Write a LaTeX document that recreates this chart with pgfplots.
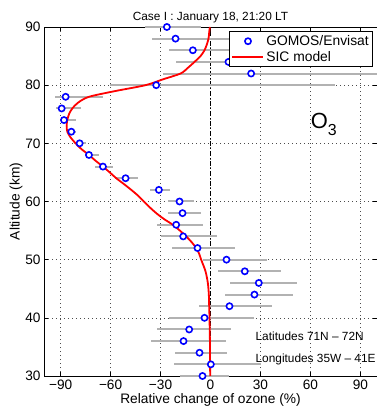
\documentclass[border=0pt]{standalone}
\usepackage{pgfplots}
\pgfplotsset{compat=1.18}
\usepackage{pgfplotstable}
\usepackage{fontspec}
\setmainfont{Liberation Sans}
\usetikzlibrary{calc}

% GOMOS/Envisat ozone change: altitude, value, error-bar ends
\pgfplotstableread{
y   x      lo     hi
90  -26.2  -39.6  -5.6
88  -21.0  -35.0  15.0
86  -10.6  -25.0  20.0
84   10.8  -20.6  40.0
82   24.4  -28.6  110.0
80  -32.6  -60.6  75.0
78  -87.0  -93.6  -64.6
76  -89.4  -93.0  -78.0
74  -88.0  -90.6  -81.0
72  -83.6  -86.0  -81.0
70  -78.6  -82.2  -75.0
68  -73.0  -75.6  -67.2
66  -64.6  -69.6  -58.6
64  -51.0  -57.6  -43.6
62  -31.0  -36.6  -24.6
60  -18.6  -25.6  -10.2
58  -16.8  -25.6  -5.6
56  -20.6  -32.2  -4.6
54  -16.4  -30.0   3.8
52  -7.8   -23.2  15.0
50   9.6   -4.6   34.0
48   20.6   4.4   42.4
46   29.0  11.8   51.8
44   26.4   9.0   49.4
42   11.4  -7.2   36.8
40  -3.6   -25.0  26.4
38  -12.8  -32.0  12.2
36  -16.2  -35.6   9.4
34  -6.6   -21.6  10.0
32   0.2   -22.2  30.4
30  -4.8   -18.6  11.4
}\gomos

% SIC model profile
\pgfplotstableread{
y   x
90  -0.4
89  -0.8
88  -1.2
87  -2.2
86  -3.6
85  -6.0
84  -9.6
83  -13.5
82  -18.0
81  -28.6
80  -39.0
79  -57.0
78  -73.0
77  -79.5
76  -83.0
75  -85.0
74  -86.0
73  -86.4
72  -86.0
71  -84.0
70  -81.0
69  -77.5
68  -73.0
67  -69.0
66  -64.6
65  -60.5
64  -56.6
63  -52.0
62  -47.6
61  -43.5
60  -40.0
59  -36.5
58  -32.6
57  -28.0
56  -22.6
55  -18.4
54  -14.6
53  -11.3
52  -8.6
51  -6.8
50  -5.6
48  -3.0
46  -1.6
44  -1.0
42  -0.8
40  -0.6
35  -0.3
30  -0.2
}\sic

\begin{document}
\begin{tikzpicture}
\begin{axis}[
  scale only axis,
  width=333bp, height=349bp,
  xmin=-100, xmax=100, ymin=30, ymax=90,
  xtick={-90,-60,-30,0,30,60,90},
  xticklabels={−90,−60,−30,0,30,60,90},
  ytick={30,40,50,60,70,80,90},
  tick align=inside,
  major tick length=4bp,
  tick style={black, line width=0.6bp},
  axis line style={black, line width=0.9bp},
  grid=major,
  major grid style={black!70, line width=0.5bp, dash pattern=on 0.8bp off 3.2bp},
  tick label style={font=\fontsize{13.7}{15}\selectfont},
  /pgf/number format/assume math mode=true,
  xticklabel style={yshift=-0.5bp},
  label style={font=\fontsize{13.8}{15}\selectfont},
  xlabel={Relative change of ozone (\%)},
  ylabel={Altitude (km)},
  xlabel style={yshift=2.5bp},
  ylabel style={yshift=-4bp},
  title={Case I : January 18, 21:20 LT},
  title style={font=\fontsize{11.9}{13}\selectfont, yshift=-5bp},
  legend style={at={(0.556,0.9885)}, anchor=north west,
    font=\fontsize{13.9}{16}\selectfont, draw=black, line width=0.9bp,
    fill=white, inner sep=2bp, row sep=0bp},
  legend cell align=left,
  legend image code/.code={%
    \draw[#1, line width=1.8bp] (0bp,0bp) -- (31bp,0bp);},
]
% zero reference line
\addplot[forget plot, black, line width=0.7bp, dash pattern=on 5bp off 2bp on 1bp off 2bp]
  coordinates {(0,30) (0,90)};
% error bars
\addplot[forget plot, draw=none, mark=none,
  error bars/.cd, x dir=both, x explicit, error mark=none,
  error bar style={draw=black!30, line width=2bp}]
  table[x=x, y=y, x error plus expr=\thisrow{hi}-\thisrow{x},
        x error minus expr=\thisrow{x}-\thisrow{lo}] {\gomos};
% observations
\addplot[only marks, mark=*, mark size=3.1bp,
  mark options={draw=blue, fill=white, line width=1.6bp},
  legend image code/.code={%
    \draw[mark=*, mark size=3.1bp, mark options={draw=blue, fill=white, line width=1.6bp}]
      plot coordinates {(15.5bp,0bp)};}]
  table[x=x, y=y] {\gomos};
\addlegendentry{GOMOS/Envisat}
% model
\addplot[red, line width=1.8bp, smooth, no marks] table[x=x, y=y] {\sic};
\addlegendentry{SIC model}

\node[anchor=west, font=\fontsize{11.9}{13}\selectfont] at (axis cs:25,36.9) {Latitudes 71N – 72N};
\node[anchor=west, font=\fontsize{11.9}{13}\selectfont] at (axis cs:25,32.9) {Longitudes 35W – 41E};
\node[font=\fontsize{22}{24}\selectfont] at (axis cs:68,73.2) {O\raisebox{-0.32em}{\fontsize{16}{16}\selectfont 3}};
\end{axis}
\pgfresetboundingbox
\path[use as bounding box] ($(current axis.south west)+(-44bp,-33bp)$) rectangle ($(current axis.north east)+(0bp,27bp)$);
\end{tikzpicture}
\end{document}
